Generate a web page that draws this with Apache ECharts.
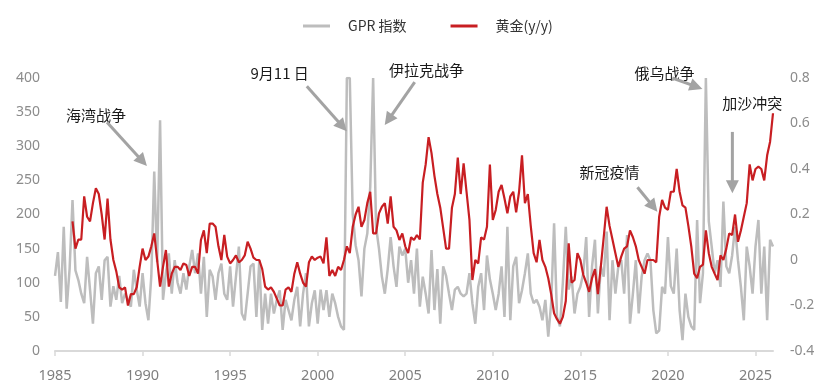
<!DOCTYPE html>
<html>
<head>
<meta charset="utf-8">
<script src="https://cdn.jsdelivr.net/npm/echarts@6/dist/echarts.min.js"></script>
<style>
html,body{margin:0;padding:0;background:#fff;}
#chart{width:833px;height:389px;}
</style>
</head>
<body>
<div id="chart"></div>
<script>
// ---- data (bimonthly samples) ----
const gprStartYear = 1985;
const goldStartYear = 1986;
const pointsPerYear = 6;

const gprValues = [
  110,145,72,182,62,120,   221,118,104,84,70,138,   90,40,114,124,75,133,
  138,65,95,75,110,70,     84,75,65,119,90,65,      114,70,45,110,263,130,
  338,75,114,143,84,133,   100,84,114,90,124,148,   114,143,84,138,50,119,
  109,75,114,128,84,75,    124,65,109,153,55,45,    84,124,128,50,133,31,
  84,40,84,55,75,89,       31,75,60,45,75,94,       36,84,114,36,70,89,
  40,90,60,89,50,84,       70,50,36,31,400,400,     200,155,133,80,150,172,
  240,400,182,150,109,84,  120,167,124,94,153,140,  150,100,133,84,150,65,
  109,84,55,148,60,120,    40,124,110,84,60,90,     94,84,80,84,114,70,
  40,94,114,60,140,105,    84,60,84,124,50,182,     45,124,138,70,89,114,
  143,84,70,75,65,45,      75,21,70,187,50,36,      100,182,90,109,55,84,
  94,114,167,50,124,163,   55,124,109,175,45,133,   84,124,133,84,170,40,
  84,133,55,109,133,143,   133,60,26,30,94,84,      167,95,84,150,60,16,
  84,50,36,31,192,70,      114,400,190,153,114,133, 94,219,124,114,140,182,
  133,94,45,153,124,84,    153,192,84,153,45,163,153
];

const goldYoY = [
  0.17,0.05,0.09,0.09,0.28,0.19,        0.17,0.25,0.315,0.29,0.2,0.09,
  0.27,0.09,0.0,-0.05,-0.12,-0.13,      -0.12,-0.2,-0.15,-0.15,-0.12,-0.03,
  0.05,0.0,0.015,0.06,0.117,0.0,        -0.117,-0.03,0.044,-0.117,-0.06,-0.03,
  -0.03,-0.044,-0.015,-0.022,-0.07,-0.03, -0.03,-0.06,0.088,0.13,0.03,0.16,
  0.16,0.146,0.06,0.0,0.11,0.015,       -0.015,0.0,0.02,-0.01,0.0,0.02,
  0.08,0.05,0.01,0.0,0.0,-0.04,         -0.117,-0.13,-0.12,-0.14,-0.17,-0.2,
  -0.2,-0.13,-0.12,-0.14,-0.06,-0.01,   -0.06,-0.1,-0.117,-0.01,0.015,0.0,
  0.01,0.015,-0.015,0.1,-0.07,-0.044,   -0.07,-0.03,-0.044,0.0,0.06,0.03,
  0.146,0.2,0.234,0.146,0.176,0.25,     0.3,0.117,0.117,0.205,0.234,0.25,
  0.16,0.28,0.146,0.13,0.088,0.117,     0.06,0.03,0.1,0.088,0.11,0.09,
  0.34,0.42,0.54,0.47,0.37,0.29,        0.23,0.14,0.05,0.05,0.23,0.29,
  0.45,0.29,0.425,0.3,0.176,-0.088,     0.0,-0.015,0.1,0.09,0.146,0.42,
  0.176,0.22,0.3,0.33,0.27,0.205,       0.28,0.3,0.21,0.3,0.46,0.25,
  0.29,0.15,0.03,-0.01,0.088,0.0,       -0.03,-0.08,-0.15,-0.234,-0.26,-0.28,
  -0.25,-0.18,0.073,-0.1,-0.088,0.03,   0.0,-0.065,-0.1,-0.14,-0.08,-0.04,
  -0.15,-0.03,0.1,0.234,0.15,0.09,      0.03,-0.03,0.015,0.05,0.06,0.13,
  0.1,0.06,0.0,-0.03,-0.06,0.0,         0.0,0.0,-0.01,0.19,0.264,0.23,
  0.22,0.3,0.3,0.4,0.3,0.24,            0.23,0.15,0.06,-0.06,-0.08,-0.03,
  -0.02,0.13,0.03,-0.03,-0.06,-0.088,   0.02,0.0,0.05,0.117,0.11,0.2,
  0.08,0.13,0.19,0.25,0.42,0.35,        0.4,0.41,0.4,0.35,0.46,0.52,0.645
];

const xTickYears = [1985,1990,1995,2000,2005,2010,2015,2020,2025];
const seriesNames = ['GPR 指数', '黄金(y/y)'];

// annotations in data coordinates (x = year, y = GPR axis)
const annotationTexts = ['海湾战争','9月11 日','伊拉克战争','新冠疫情','俄乌战争','加沙冲突'];
const annotationTextPos = [[1987.34,346],[1997.83,407],[2006.22,411],[2016.66,262],[2019.8,407],[2024.82,363]];
const arrowFrom = [[1987.97,335],[1999.38,388],[2005.54,394],[2018.26,240],[2020.25,400],[2023.68,321]];
const arrowTo   = [[1990.25,271],[2001.66,322],[2003.83,331],[2019.40,204],[2021.97,384],[2023.68,231]];

// ---- chart ----
const gprData = gprValues.map((v,i)=>[gprStartYear + i/pointsPerYear, v]);
const goldData = goldYoY.map((v,i)=>[goldStartYear + i/pointsPerYear, v]);

const FONT = '"Noto Sans CJK SC", "Noto Sans", sans-serif';
const chart = echarts.init(document.getElementById('chart'), null, {renderer:'canvas'});

chart.setOption({
  animation:false,
  backgroundColor:'#ffffff',
  textStyle:{fontFamily:FONT},
  legend:{
    top:14, left:298, itemGap:44,
    itemWidth:27, itemHeight:3, icon:'rect',
    textStyle:{fontFamily:FONT, fontSize:14, color:'#333', padding:[0,0,0,13]},
    data:seriesNames
  },
  grid:{left:55, right:60, top:78, bottom:38, containLabel:false},
  xAxis:{
    type:'value', min:1985, max:2026, interval:5,
    axisLine:{show:true, lineStyle:{color:'#d9d9d9', width:2}},
    axisTick:{show:true, length:5, lineStyle:{color:'#d9d9d9', width:1.5}, customValues:xTickYears},
    axisLabel:{color:'#7f7f7f', fontSize:14.5, fontFamily:'"Noto Sans", sans-serif', margin:17,
      customValues:xTickYears,
      formatter:(v)=> (xTickYears.indexOf(Math.round(v))>=0 && Math.abs(v-Math.round(v))<1e-6) ? String(Math.round(v)) : ''},
    splitLine:{show:false}
  },
  yAxis:[
    {type:'value', min:0, max:400, interval:50,
     axisLine:{show:false}, axisTick:{show:false}, splitLine:{show:false},
     axisLabel:{color:'#8c8c8c', fontSize:14, fontFamily:'"Noto Sans", sans-serif', margin:15}},
    {type:'value', min:-0.4, max:0.8, interval:0.2, position:'right',
     axisLine:{show:false}, axisTick:{show:false}, splitLine:{show:false},
     axisLabel:{color:'#8c8c8c', fontSize:14, fontFamily:'"Noto Sans", sans-serif', margin:17,
       formatter:(v)=> (Math.abs(v)<1e-9 ? '0' : String(Math.round(v*10)/10))}}
  ],
  series:[
    {name:seriesNames[0], type:'line', yAxisIndex:0, data:gprData, showSymbol:false, symbol:'none',
     lineStyle:{color:'#bdbdbd', width:2.5}, itemStyle:{color:'#bdbdbd'}, clip:true, z:2},
    {name:seriesNames[1], type:'line', yAxisIndex:1, data:goldData, showSymbol:false, symbol:'none',
     lineStyle:{color:'#c81e22', width:2.2}, itemStyle:{color:'#c81e22'}, z:3}
  ]
});

// annotations through the axes' conversion
function toPx(c){ return chart.convertToPixel({xAxisIndex:0, yAxisIndex:0}, c); }
const graphics = [];
annotationTexts.forEach((t,i)=>{
  const p = toPx(annotationTextPos[i]);
  graphics.push({type:'text', x:p[0], y:p[1], z:10,
    style:{text:t, fill:'#1a1a1a', font:'15px "Noto Sans CJK SC", sans-serif', textAlign:'center', textVerticalAlign:'middle'}});
  const a = toPx(arrowFrom[i]), b = toPx(arrowTo[i]);
  const dx=b[0]-a[0], dy=b[1]-a[1], L=Math.sqrt(dx*dx+dy*dy), ux=dx/L, uy=dy/L;
  const headL=13, headW=6.5;
  const bx=b[0]-ux*headL, by=b[1]-uy*headL;
  graphics.push({type:'line', z:10, shape:{x1:a[0], y1:a[1], x2:bx+ux*2, y2:by+uy*2},
    style:{stroke:'#a3a3a3', lineWidth:3}});
  graphics.push({type:'polygon', z:10, shape:{points:[[b[0],b[1]],[bx-uy*headW, by+ux*headW],[bx+uy*headW, by-ux*headW]]},
    style:{fill:'#a3a3a3'}});
});
chart.setOption({graphic:graphics});
</script>
</body>
</html>
